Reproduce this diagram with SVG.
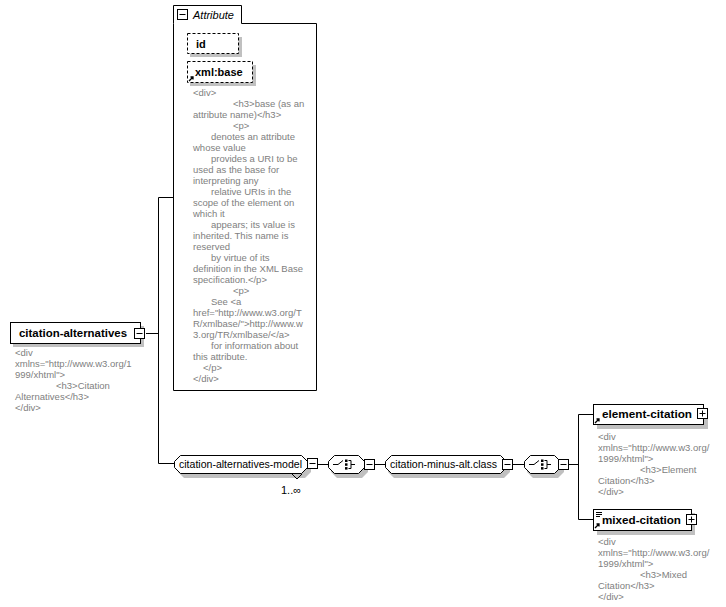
<svg xmlns="http://www.w3.org/2000/svg" width="726" height="607" viewBox="0 0 726 607">
<style>
.box{fill:#fff;stroke:#000;stroke-width:1}
.dash{fill:#fff;stroke:#000;stroke-width:1;stroke-dasharray:3,2}
.sh{fill:#c0c0c0;stroke:none}
.ln{stroke:#000;stroke-width:1;fill:none}
.lbl{font-family:"Liberation Sans",Arial,sans-serif;font-size:11px;fill:#000}
.b{font-weight:bold}
.desc{font-family:"Liberation Sans",Arial,sans-serif;font-size:9.5px;fill:#808080}
.ic{fill:#fff;stroke:#000;stroke-width:1}
</style>
<defs>
<g id="minus"><rect x="0.5" y="0.5" width="10" height="10" class="ic"/><path d="M2.5 5.5H8.5" class="ln"/></g>
<g id="plus"><rect x="0.5" y="0.5" width="10" height="10" class="ic"/><path d="M2.5 5.5H8.5M5.5 2.5V8.5" class="ln"/></g>
<g id="ref"><path d="M1 7L5 3M2.5 3H5V5.5" stroke="#000" stroke-width="1.3" fill="none"/></g>
<g id="choice"><path d="M-14 0H-9L-4 -4" class="ln"/><rect x="-2" y="-5" width="2.5" height="2.5" fill="#000"/><rect x="-2" y="-1.2" width="2.5" height="2.5" fill="#000"/><rect x="-2" y="2.6" width="2.5" height="2.5" fill="#000"/><path d="M1.5 -4H4V4H1.5M4 0H8" class="ln"/></g>
</defs>

<g id="connectors">
<path d="M146 333.5H158.5M158.5 197.5V463.5M158.5 197.5H174M158.5 463.5H174" class="ln"/>
<path d="M318 464.5H329M374 464.5H385M512 464.5H524M568 464.5H578.5M578.5 414.5V519.5M578.5 414.5H593M578.5 519.5H593" class="ln"/>
</g>

<g id="citation-alternatives">
<rect x="13" y="326" width="131" height="21" class="sh"/>
<rect x="10.5" y="322.5" width="130" height="21" class="box"/>
<text x="19" y="337" class="lbl b" textLength="108" lengthAdjust="spacingAndGlyphs">citation-alternatives</text>
<use href="#minus" x="134" y="328"/>
<text class="desc">
<tspan x="15" y="356">&lt;div</tspan>
<tspan x="15" y="367">xmlns="http://www.w3.org/1</tspan>
<tspan x="15" y="378">999/xhtml"&gt;</tspan>
<tspan x="56" y="389">&lt;h3&gt;Citation</tspan>
<tspan x="15" y="400">Alternatives&lt;/h3&gt;</tspan>
<tspan x="15" y="411">&lt;/div&gt;</tspan>
</text>
</g>

<g id="attributes">
<path d="M173.5 23.5V5.5H241.5V23.5H316.5V390.5H173.5Z" class="box"/>
<use href="#minus" x="177" y="9"/>
<text x="193" y="19" class="lbl" font-style="italic">Attribute</text>
<g id="attr-id">
<rect x="190" y="37" width="52" height="20" class="sh"/>
<rect x="187.5" y="33.5" width="51" height="20" class="dash"/>
<text x="196" y="48" class="lbl b">id</text>
</g>
<g id="attr-xml-base">
<rect x="190" y="65" width="66" height="21" class="sh"/>
<rect x="187.5" y="61.5" width="65" height="21" class="dash"/>
<use href="#ref" x="188" y="74"/>
<text x="195" y="76" class="lbl b">xml:base</text>
</g>
<text class="desc" font-size="9.3">
<tspan x="193" y="96">&lt;div&gt;</tspan>
<tspan x="233" y="107">&lt;h3&gt;base (as an</tspan>
<tspan x="193" y="118">attribute name)&lt;/h3&gt;</tspan>
<tspan x="233" y="129">&lt;p&gt;</tspan>
<tspan x="211" y="140">denotes an attribute</tspan>
<tspan x="193" y="151">whose value</tspan>
<tspan x="211" y="162">provides a URI to be</tspan>
<tspan x="193" y="173">used as the base for</tspan>
<tspan x="193" y="184">interpreting any</tspan>
<tspan x="211" y="195">relative URIs in the</tspan>
<tspan x="193" y="206">scope of the element on</tspan>
<tspan x="193" y="217">which it</tspan>
<tspan x="211" y="228">appears; its value is</tspan>
<tspan x="193" y="239">inherited.  This name is</tspan>
<tspan x="193" y="250">reserved</tspan>
<tspan x="211" y="261">by virtue of its</tspan>
<tspan x="193" y="272">definition in the XML Base</tspan>
<tspan x="193" y="283">specification.&lt;/p&gt;</tspan>
<tspan x="233" y="294">&lt;p&gt;</tspan>
<tspan x="211" y="305">See &lt;a</tspan>
<tspan x="193" y="316">href="http://www.w3.org/T</tspan>
<tspan x="193" y="327">R/xmlbase/"&gt;http://www.w</tspan>
<tspan x="193" y="338">3.org/TR/xmlbase/&lt;/a&gt;</tspan>
<tspan x="211" y="349">for information about</tspan>
<tspan x="193" y="360">this attribute.</tspan>
<tspan x="203" y="371">&lt;/p&gt;</tspan>
<tspan x="193" y="382">&lt;/div&gt;</tspan>
</text>
</g>

<g id="citation-alternatives-model">
<path d="M184 459H305L311 465V472L305 478H184L178 472V465Z" class="sh"/>
<path d="M180.5 455.5H301.5L307.5 461.5V467.5L301.5 473.5H180.5L174.5 467.5V461.5Z" class="box"/>
<text x="179" y="468" class="lbl" textLength="123" lengthAdjust="spacingAndGlyphs">citation-alternatives-model</text>
<path d="M292 474L297 479L302 474" class="ln"/>
<use href="#minus" x="307" y="458"/>
<text x="281" y="494" class="lbl" font-size="10">1..∞</text>
</g>

<g id="choice-1">
<path d="M337 459H362L368 465V472L362 478H337L331 472V465Z" class="sh"/>
<path d="M334.5 455.5H358.5L364.5 461.5V467.5L358.5 473.5H334.5L328.5 467.5V461.5Z" class="box"/>
<use href="#choice" x="347" y="464.5"/>
<use href="#minus" x="364" y="459"/>
</g>

<g id="citation-minus-alt.class">
<path d="M394 459H504L510 465V472L504 478H394L388 472V465Z" class="sh"/>
<path d="M391.5 455.5H500.5L506.5 461.5V467.5L500.5 473.5H391.5L385.5 467.5V461.5Z" class="box"/>
<text x="390" y="468" class="lbl" textLength="107" lengthAdjust="spacingAndGlyphs">citation-minus-alt.class</text>
<use href="#minus" x="502" y="459"/>
</g>

<g id="choice-2">
<path d="M533 459H558L564 465V472L558 478H533L527 472V465Z" class="sh"/>
<path d="M530.5 455.5H554.5L560.5 461.5V467.5L554.5 473.5H530.5L524.5 467.5V461.5Z" class="box"/>
<use href="#choice" x="543" y="464.5"/>
<use href="#minus" x="558" y="459"/>
</g>

<g id="element-citation">
<rect x="597" y="408" width="111" height="21" class="sh"/>
<rect x="593.5" y="404.5" width="110" height="20" class="box"/>
<use href="#ref" x="594" y="416"/>
<text x="602" y="418" class="lbl b" textLength="90" lengthAdjust="spacingAndGlyphs">element-citation</text>
<use href="#plus" x="697" y="408"/>
<text class="desc">
<tspan x="598" y="440">&lt;div</tspan>
<tspan x="598" y="451">xmlns="http://www.w3.org/</tspan>
<tspan x="598" y="462">1999/xhtml"&gt;</tspan>
<tspan x="640" y="473">&lt;h3&gt;Element</tspan>
<tspan x="598" y="484">Citation&lt;/h3&gt;</tspan>
<tspan x="598" y="495">&lt;/div&gt;</tspan>
</text>
</g>

<g id="mixed-citation">
<rect x="597" y="513" width="98" height="22" class="sh"/>
<rect x="593.5" y="509.5" width="98" height="21" class="box"/>
<path d="M596 512.5H602M596 514.5H602M596 516.5H600" stroke="#000" stroke-width="1" fill="none"/>
<use href="#ref" x="594" y="521"/>
<text x="602" y="524" class="lbl b" textLength="79" lengthAdjust="spacingAndGlyphs">mixed-citation</text>
<use href="#plus" x="686" y="514"/>
<text class="desc">
<tspan x="598" y="545">&lt;div</tspan>
<tspan x="598" y="556">xmlns="http://www.w3.org/</tspan>
<tspan x="598" y="567">1999/xhtml"&gt;</tspan>
<tspan x="640" y="578">&lt;h3&gt;Mixed</tspan>
<tspan x="598" y="589">Citation&lt;/h3&gt;</tspan>
<tspan x="598" y="600">&lt;/div&gt;</tspan>
</text>
</g>
</svg>
